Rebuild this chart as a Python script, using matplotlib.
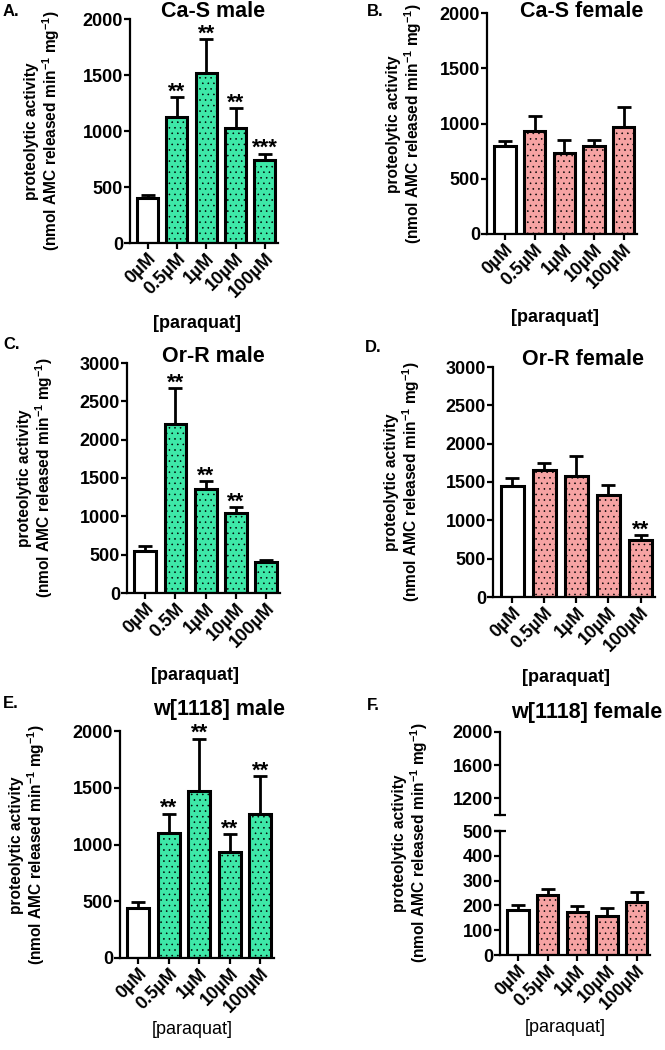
import numpy as np
import matplotlib.pyplot as plt

plt.rcParams['font.family'] = ['Liberation Sans', 'DejaVu Sans']
plt.rcParams['font.weight'] = 'bold'
plt.rcParams['mathtext.fontset'] = 'custom'
plt.rcParams['mathtext.rm'] = 'Liberation Sans:bold'
plt.rcParams['mathtext.default'] = 'rm'
plt.rcParams['hatch.linewidth'] = 0.4

doses = ["0\u00b5M", "0.5\u00b5M", "1\u00b5M", "10\u00b5M", "100\u00b5M"]
doses_c = ["0\u00b5M", "0.5M", "1\u00b5M", "10\u00b5M", "100\u00b5M"]

cas_male = [405, 1121, 1514, 1025, 739]
cas_male_err = [27, 179, 310, 176, 60]
cas_male_sig = ["", "**", "**", "**", "***"]

cas_female = [799, 935, 733, 793, 968]
cas_female_err = [40, 136, 121, 61, 178]
cas_female_sig = ["", "", "", "", ""]

orr_male = [548, 2200, 1357, 1048, 400]
orr_male_err = [61, 470, 100, 74, 26]
orr_male_sig = ["", "**", "**", "**", ""]

orr_female = [1443, 1661, 1578, 1330, 739]
orr_female_err = [114, 91, 261, 131, 70]
orr_female_sig = ["", "", "", "", "**"]

w_male = [443, 1103, 1475, 930, 1270]
w_male_err = [47, 170, 458, 161, 334]
w_male_sig = ["", "**", "**", "**", "**"]

w_female = [182, 241, 174, 158, 212]
w_female_err = [18, 26, 22, 31, 43]
w_female_sig = ["", "", "", "", ""]

GREEN = "#3ee8a8"
PINK = "#f6a3a3"
W, H = 665, 1050

fig = plt.figure(figsize=(6.65, 10.5), dpi=100)


def px_axes(l, t, r, b):
    return fig.add_axes([l / W, 1 - b / H, (r - l) / W, (b - t) / H])


def style(ax):
    for s in ["top", "right"]:
        ax.spines[s].set_visible(False)
    for s in ["left", "bottom"]:
        ax.spines[s].set_linewidth(1.6)
    ax.tick_params(width=1.6, length=4, labelsize=13, pad=1)
    for lab in ax.get_yticklabels():
        lab.set_fontweight("bold")


def bars(ax, vals, errs, sig, color, labels, ymax, ticks):
    x = np.arange(len(vals))
    cols = ["white"] + [color] * (len(vals) - 1)
    hatches = [""] + ["..."] * (len(vals) - 1)
    ax.errorbar(x, vals, yerr=[np.zeros(len(vals)), errs], fmt="none",
                ecolor="black", elinewidth=2, capsize=5, capthick=2, zorder=1)
    for xi, v, c, h in zip(x, vals, cols, hatches):
        ax.bar(xi, v, width=0.72, color=c, edgecolor="black", linewidth=2.2,
               hatch=h, zorder=2)
    for xi, v, e, s in zip(x, vals, errs, sig):
        if s:
            ax.annotate(s, (xi, v + e), xytext=(0, -4), textcoords="offset points",
                        ha="center", va="bottom", fontsize=16, fontweight="bold")
    ax.set_xlim(-0.6, len(vals) - 0.55)
    ax.set_ylim(0, ymax)
    ax.set_yticks(ticks)
    ax.set_xticks(x)
    ax.set_xticklabels(labels, rotation=45, ha="right", rotation_mode="anchor",
                       fontsize=12.5, fontweight="bold")
    style(ax)


def texts(letter, lxy, title, txy, ylab_xy, para_xy, para_bold=True):
    fig.text(lxy[0] / W, 1 - lxy[1] / H, letter, fontsize=12, fontweight="bold",
             va="center", ha="left")
    fig.text(txy[0] / W, 1 - txy[1] / H, title, fontsize=15.5, fontweight="bold",
             va="baseline", ha="center")
    fig.text(ylab_xy[0] / W, 1 - ylab_xy[1] / H,
             "proteolytic activity\n(nmol AMC released min$^{-1}$ mg$^{-1}$)",
             rotation=90, fontsize=11.2, fontweight="bold", va="center", ha="center",
             linespacing=1.05)
    fig.text(para_xy[0] / W, 1 - para_xy[1] / H, "[paraquat]", fontsize=13,
             fontweight="bold" if para_bold else "normal", va="center", ha="center")


axA = px_axes(130, 19, 278, 243)
bars(axA, cas_male, cas_male_err, cas_male_sig, GREEN, doses, 2000, [0, 500, 1000, 1500, 2000])
texts("A.", (3, 12), "Ca-S male", (213, 17), (43, 131), (197, 324))

axB = px_axes(487, 13, 637, 234)
bars(axB, cas_female, cas_female_err, cas_female_sig, PINK, doses, 2000, [0, 500, 1000, 1500, 2000])
texts("B.", (367, 12), "Ca-S female", (582, 17), (405, 124), (555, 317))

axC = px_axes(127, 363, 280, 593)
bars(axC, orr_male, orr_male_err, orr_male_sig, GREEN, doses_c, 3000, np.arange(0, 3001, 500))
texts("C.", (3, 345), "Or-R male", (213, 362), (36, 478), (195, 675))

axD = px_axes(493, 367, 655, 597)
bars(axD, orr_female, orr_female_err, orr_female_sig, PINK, doses, 3000, np.arange(0, 3001, 500))
texts("D.", (365, 348), "Or-R female", (583, 365), (403, 482), (566, 678))

axE = px_axes(120, 731, 274, 958)
bars(axE, w_male, w_male_err, w_male_sig, GREEN, doses, 2000, [0, 500, 1000, 1500, 2000])
texts("E.", (3, 703), "w[1118] male", (219, 715), (28, 845), (192, 1030), para_bold=False)

# broken y axis for panel F
axF = px_axes(500, 831, 650, 955)
bars(axF, w_female, w_female_err, w_female_sig, PINK, doses, 500, np.arange(0, 501, 100))
axF.plot([0], [1], marker="_", ms=9, mew=1.6, color="black", transform=axF.transAxes,
         clip_on=False)
axFu = px_axes(500, 732, 650, 815)
axFu.set_ylim(1000, 2000)
axFu.set_yticks([1200, 1600, 2000])
axFu.set_xticks([])
axFu.spines["bottom"].set_visible(False)
style(axFu)
axFu.plot([0], [0], marker="_", ms=9, mew=1.6, color="black", transform=axFu.transAxes,
          clip_on=False)
texts("F.", (367, 705), "w[1118] female", (587, 718), (411, 843), (565, 1027), para_bold=False)

fig.savefig("out.png", dpi=100)
